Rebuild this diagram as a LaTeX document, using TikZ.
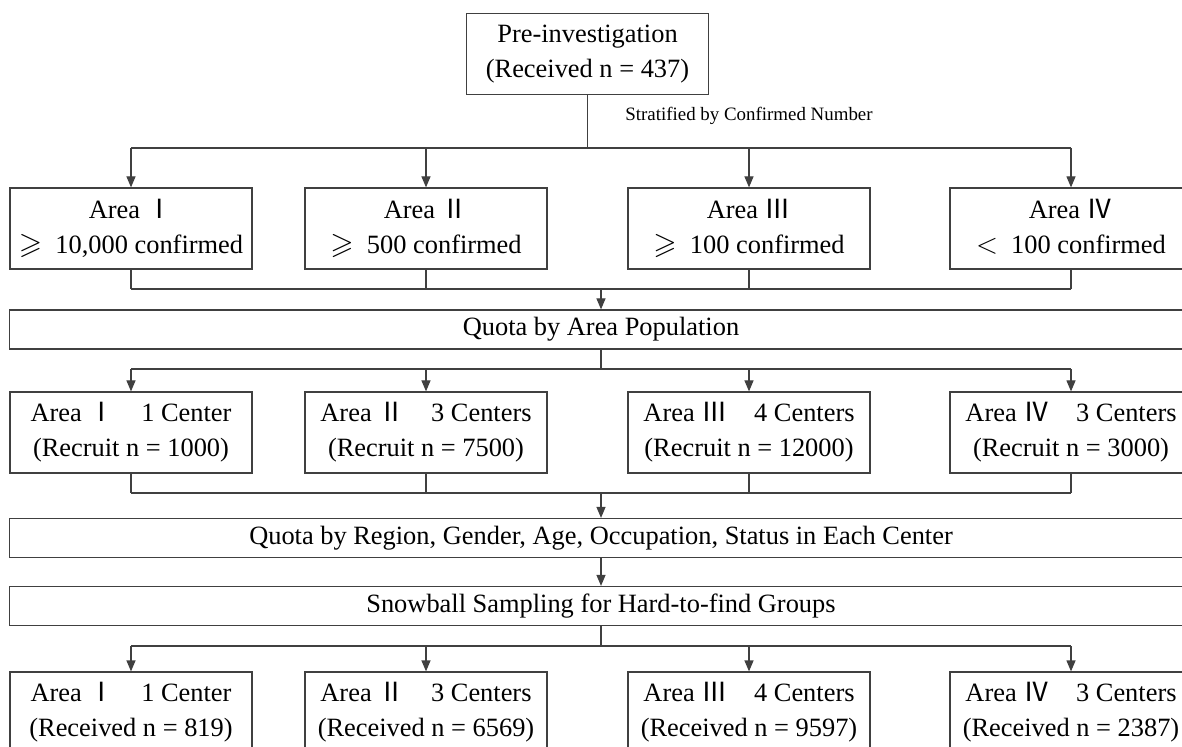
\documentclass[tikz,border=0pt]{standalone}
\usepackage{amssymb}
\usepackage{fontspec}
\setmainfont{Liberation Serif}
\newfontfamily\cjk{Noto Sans CJK SC}
\usetikzlibrary{arrows.meta}

\newcommand{\romI}{{\cjk Ⅰ}}
\newcommand{\romII}{{\cjk Ⅱ}}
\newcommand{\romIII}{{\cjk Ⅲ}}
\newcommand{\romIV}{{\cjk Ⅳ}}
\newcommand{\atleast}{{\fontsize{15}{17.5}\selectfont$\geqslant$}\hspace{0.5em}}
\newcommand{\below}{{\fontsize{15}{17.5}\selectfont\vphantom{$\geqslant$}$<$}\hspace{0.5em}}

\begin{document}
\begin{tikzpicture}[x=0.5pt,y=-0.5pt,
		>={Triangle[length=5.5pt,width=4.5pt]},
		link/.style={draw=black!75,line width=0.6pt},
		area box/.style={draw=black!75,line width=0.6pt,minimum width=121pt,minimum height=40.5pt,inner sep=0pt,align=center,font=\fontsize{13.2}{17.5}\selectfont},
		wide box/.style={draw=black!75,line width=0.6pt,minimum width=591.2pt,minimum height=19.5pt,inner sep=0pt,font=\fontsize{13.2}{17.5}\selectfont}
		]
		
		\useasboundingbox (0,0) rectangle (1182,747);
		\clip (0,0) rectangle (1182,747);
		
		\node[area box] (pre) at (587.5,54) {Pre-investigation\\(Received n = 437)};
		\node[anchor=west,inner sep=0pt,font=\fontsize{9.45}{11}\selectfont] (strat) at (625,116) {Stratified by Confirmed Number};
		
		\node[area box] (a1) at (131,228.5) {Area \romI\\\atleast 10,000 confirmed};
		\node[area box] (a2) at (426,228.5) {Area \romII\\\atleast 500 confirmed};
		\node[area box] (a3) at (749,228.5) {Area \romIII\\\atleast 100 confirmed};
		\node[area box] (a4) at (1071,228.5) {Area \romIV\\\below 100 confirmed};
		
		\node[wide box] (qarea) at (601,329.5) {Quota by Area Population};
		
		\node[area box] (c1) at (131,432.5) {Area \romI\hspace{1em}1 Center\\(Recruit n = 1000)};
		\node[area box] (c2) at (426,432.5) {Area \romII\hspace{1em}3 Centers\\(Recruit n = 7500)};
		\node[area box] (c3) at (749,432.5) {Area \romIII\hspace{1em}4 Centers\\(Recruit n = 12000)};
		\node[area box] (c4) at (1071,432.5) {Area \romIV\hspace{1em}3 Centers\\(Recruit n = 3000)};
		
		\node[wide box] (qcenter) at (601,538) {Quota by Region, Gender, Age, Occupation, Status in Each Center};
		\node[wide box] (snow) at (601,606) {Snowball Sampling for Hard-to-find Groups};
		
		\node[area box] (r1) at (131,712.5) {Area \romI\hspace{1em}1 Center\\(Received n = 819)};
		\node[area box] (r2) at (426,712.5) {Area \romII\hspace{1em}3 Centers\\(Received n = 6569)};
		\node[area box] (r3) at (749,712.5) {Area \romIII\hspace{1em}4 Centers\\(Received n = 9597)};
		\node[area box] (r4) at (1071,712.5) {Area \romIV\hspace{1em}3 Centers\\(Received n = 2387)};
		
		% split points and merge points
		\coordinate (s1) at (587.5,148);
		\coordinate (m1) at (601,289);
		\coordinate (s2) at (601,369);
		\coordinate (m2) at (601,493);
		\coordinate (s3) at (601,646);
		
		\draw[link] (pre.south) -- (s1);
		\draw[link] (a1.north |- s1) -- (a4.north |- s1);
		\draw[link] (a1.south |- m1) -- (a4.south |- m1);
		\draw[link,->] (m1) -- (qarea.north);
		\draw[link] (qarea.south) -- (s2);
		\draw[link] (c1.north |- s2) -- (c4.north |- s2);
		\draw[link] (c1.south |- m2) -- (c4.south |- m2);
		\draw[link,->] (m2) -- (qcenter.north);
		\draw[link,->] (qcenter.south) -- (snow.north);
		\draw[link] (snow.south) -- (s3);
		\draw[link] (r1.north |- s3) -- (r4.north |- s3);
		
		\foreach \i in {1,...,4} {
			\draw[link,->] (a\i.north |- s1) -- (a\i.north);
			\draw[link] (a\i.south) -- (a\i.south |- m1);
			\draw[link,->] (c\i.north |- s2) -- (c\i.north);
			\draw[link] (c\i.south) -- (c\i.south |- m2);
			\draw[link,->] (r\i.north |- s3) -- (r\i.north);
		}
		\end{tikzpicture}
\end{document}
